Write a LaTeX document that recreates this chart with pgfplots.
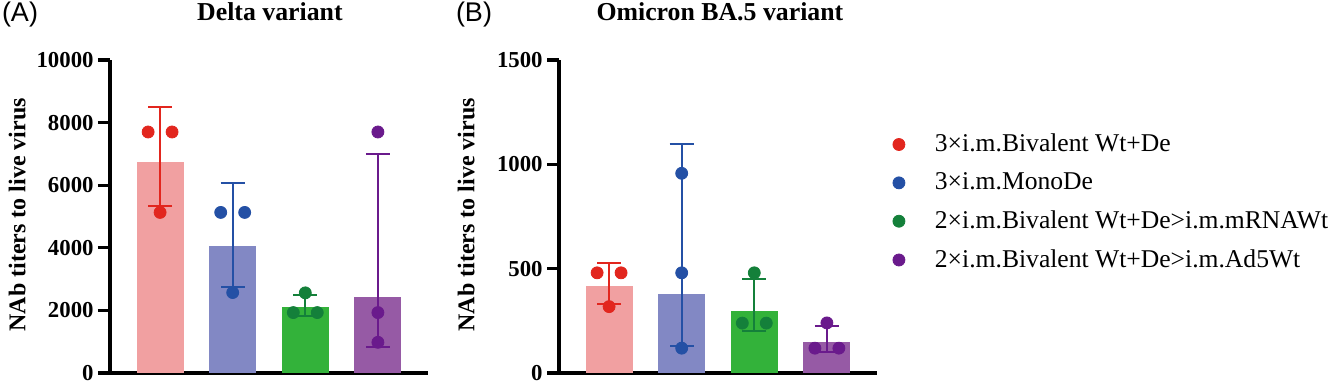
\documentclass[border=0pt]{standalone}
\usepackage{pgfplots}
\pgfplotsset{compat=1.18}
\usepackage{fontspec}
\setmainfont{Liberation Serif}
\newfontfamily\sansf{Liberation Sans}
\definecolor{barR}{HTML}{F1A0A1}
\definecolor{barB}{HTML}{8288C4}
\definecolor{barG}{HTML}{33B23A}
\definecolor{barP}{HTML}{965AA5}
\definecolor{ptR}{HTML}{E2261E}
\definecolor{ptB}{HTML}{2450A5}
\definecolor{ptG}{HTML}{14803A}
\definecolor{ptP}{HTML}{6A1A8C}
\pgfplotsset{
  panel/.style={
    scale only axis, width=159pt, height=156.5pt,
    anchor=south west,
    xmin=0.31, xmax=4.69, ymin=0,
    axis x line=bottom, axis y line=left,
    axis line style={line width=1.6pt, -},
    xtick=\empty,
    tick align=outside, major tick length=6pt,
    ytick style={line width=1.6pt, black},
    scaled y ticks=false,
    /pgf/number format/1000 sep={},
    /pgf/number format/assume math mode=true,
    yticklabel style={font=\fontsize{11.4}{12}\selectfont\bfseries, inner sep=2pt},
    ylabel={NAb titers to live virus},
    ylabel style={font=\fontsize{12}{14}\selectfont\bfseries, at={(axis description cs:-0.292,0.505)}, anchor=center},
    title style={font=\fontsize{12.9}{14}\selectfont\bfseries, at={(axis description cs:0.503,1)}, anchor=center, yshift=18pt},
    clip=false,
  },
  bar/.style={ybar, bar width=23.5pt, bar shift=0pt, draw=none, fill=#1},
  eb/.style={draw=none, mark=none, forget plot,
    error bars/.cd, y dir=both, y explicit, error mark=|,
    error bar style={line width=0.9pt, draw=#1},
    error mark options={line width=0.9pt, mark size=6pt, draw=#1}},
  pts/.style={only marks, mark=*, mark size=3pt, color=#1, mark options={draw=none, fill=#1}, forget plot},
}
\begin{document}
\begin{tikzpicture}
\path[use as bounding box] (0,0) rectangle (667.5pt,192pt);
\node[font=\sansf\fontsize{13.5}{15}\selectfont] at (10pt,184.5pt) {(A)};
\node[font=\sansf\fontsize{13.5}{15}\selectfont] at (237pt,184.5pt) {(B)};
\begin{axis}[panel, at={(55pt,5.5pt)}, ymax=10000, ytick={0,2000,4000,6000,8000,10000},
  title={Delta variant}]
\addplot[bar=barR, forget plot] coordinates {(1,6730)};
\addplot[bar=barB, forget plot] coordinates {(2,4070)};
\addplot[bar=barG, forget plot] coordinates {(3,2120)};
\addplot[bar=barP, forget plot] coordinates {(4,2420)};
\addplot[eb=ptR] coordinates {(1,6730) += (0,1780) -= (0,1395)};
\addplot[eb=ptB] coordinates {(2,4070) += (0,2010) -= (0,1330)};
\addplot[eb=ptG] coordinates {(3,2120) += (0,380) -= (0,300)};
\addplot[eb=ptP] coordinates {(4,2420) += (0,4580) -= (0,1580)};
\addplot[pts=ptR] coordinates {(0.835,7700) (1.165,7700) (1,5130)};
\addplot[pts=ptB] coordinates {(1.835,5130) (2.165,5130) (2,2570)};
\addplot[pts=ptG] coordinates {(3,2560) (2.835,1930) (3.165,1930)};
\addplot[pts=ptP] coordinates {(4,7700) (4,1930) (4,980)};
\end{axis}
\begin{axis}[panel, at={(279.5pt,5.5pt)}, ymax=1500, ytick={0,500,1000,1500},
  title={Omicron BA.5 variant},
  title style={at={(axis description cs:0.506,1)}},
  legend style={draw=none, fill=none, at={(axis description cs:1.03,0.79)}, anchor=north west,
    font=\fontsize{12.8}{14}\selectfont, row sep=5pt,
    /tikz/every odd column/.append style={column sep=13pt}},
  legend cell align=left]
\addplot[bar=barR, forget plot] coordinates {(1,417)};
\addplot[bar=barB, forget plot] coordinates {(2,379)};
\addplot[bar=barG, forget plot] coordinates {(3,299)};
\addplot[bar=barP, forget plot] coordinates {(4,148)};
\addplot[eb=ptR] coordinates {(1,417) += (0,110) -= (0,86)};
\addplot[eb=ptB] coordinates {(2,379) += (0,718) -= (0,248)};
\addplot[eb=ptG] coordinates {(3,299) += (0,151) -= (0,99)};
\addplot[eb=ptP] coordinates {(4,148) += (0,76) -= (0,48)};
\addplot[pts=ptR] coordinates {(0.835,480) (1.165,480) (1,318)};
\addplot[pts=ptB] coordinates {(2,957) (2,480) (2,119)};
\addplot[pts=ptG] coordinates {(3,480) (2.835,239) (3.165,239)};
\addplot[pts=ptP] coordinates {(4,240) (3.835,119) (4.165,119)};
\addlegendimage{only marks, mark=*, mark size=3pt, color=ptR, mark options={draw=none, fill=ptR}}
\addlegendentry{3×i.m.Bivalent Wt+De}
\addlegendimage{only marks, mark=*, mark size=3pt, color=ptB, mark options={draw=none, fill=ptB}}
\addlegendentry{3×i.m.MonoDe}
\addlegendimage{only marks, mark=*, mark size=3pt, color=ptG, mark options={draw=none, fill=ptG}}
\addlegendentry{2×i.m.Bivalent Wt+De>i.m.mRNAWt}
\addlegendimage{only marks, mark=*, mark size=3pt, color=ptP, mark options={draw=none, fill=ptP}}
\addlegendentry{2×i.m.Bivalent Wt+De>i.m.Ad5Wt}
\end{axis}
\end{tikzpicture}
\end{document}
